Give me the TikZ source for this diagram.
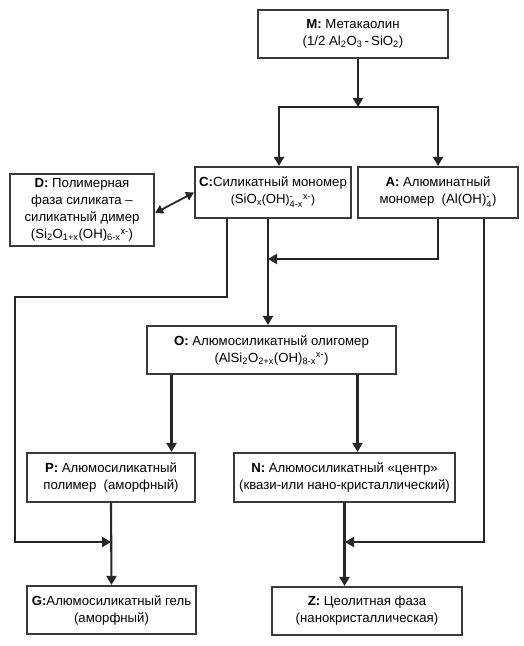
\documentclass[tikz,border=0pt]{standalone}
\usepackage{amsmath}
\usepackage{fontspec}
\setmainfont{Liberation Sans}
\usetikzlibrary{arrows.meta, calc}
\definecolor{cline}{HTML}{262626}
\definecolor{cbox}{HTML}{3A3A3A}
\newcommand{\subx}[1]{\textsubscript{#1}}
\newcommand{\supx}[1]{\textsuperscript{#1}}
\newcommand{\stk}[2]{\ensuremath{^{\text{#1}}_{\text{#2}}}}
\tikzset{
  every picture/.style={font=\fontsize{13.2}{17}\selectfont, line width=2.1pt},
  box/.style={draw=cbox, fill=white, align=center, inner sep=2pt, minimum height=#1},
  box/.default=49pt,
  arrow/.style={-{Triangle[length=9pt, width=10pt]}, draw=cline},
  dblarrow/.style={{Triangle[length=8pt, width=9pt]}-{Triangle[length=8pt, width=9pt]}, draw=cline, line width=1.8pt},
}

\begin{document}
\begin{tikzpicture}[x=1pt, y=-1pt]
  \useasboundingbox (0,0) rectangle (524,646);
  % boxes
  \node[box=48pt, minimum width=190pt] (M) at (353,34) {\textbf{M:} Метакаолин\\(1/2 Al\subx{2}O\subx{3}\,-\,SiO\subx{2})};
  \node[box=51pt, minimum width=156pt] (C) at (273,192.5) {\textbf{C:}Силикатный мономер\\{\large(}SiO\subx{x}{\large(}OH{\large)}\stk{-}{4-x}\supx{x-}{\large)}};
  \node[box=51pt, minimum width=160pt] (A) at (438,192.5) {\textbf{A:} Алюминатный\\мономер\ \ (Al(OH)\stk{-}{4})};
  \node[box=72pt, minimum width=144pt] (D) at (82,210) {\textbf{D:} Полимерная\\фаза силиката –\\силикатный димер\\(Si\subx{2}O\subx{1+x}(OH)\subx{6-x}\supx{x-})};
  \node[box=48pt, minimum width=249pt] (O) at (271.5,350) {\textbf{O:} Алюмосиликатный олигомер\\(AlSi\subx{2}O\subx{2+x}(OH)\subx{8-x}\supx{x-})};
  \node[box, minimum width=168pt] (P) at (111,477.5) {\textbf{P:} Алюмосиликатный\\полимер\ \ (аморфный)};
  \node[box, minimum width=221pt] (N) at (344.5,477.5) {\textbf{N:} Алюмосиликатный «центр»\\(квази-или нано-кристаллический)};
  \node[box=48pt, minimum width=169pt] (G) at (111.5,610) {\textbf{G:}Алюмосиликатный гель\\(аморфный)};
  \node[box=48pt, minimum width=190pt] (Z) at (367,611) {\textbf{Z:} Цеолитная фаза\\(нанокристаллическая)};
  % junctions
  \coordinate (split) at (358,107);
  \coordinate (cj) at (268,259);
  \coordinate (lt) at (15,297);
  \coordinate (lb) at (15,542);
  \coordinate (zj) at (345,542);
  % connectors
  \draw[arrow] (M.south -| split) -- (split);
  \draw[arrow] (split) -| ([xshift=6pt]C.north);
  \draw[arrow] (split) -| (A.north);
  \draw[dblarrow] ([yshift=-3pt]D.east) -- (C.west);
  \draw[arrow] ([xshift=-5pt]C.south) -- ([xshift=-5pt]C.south |- O.north);
  \draw[arrow] (A.south) |- (cj);
  \draw[arrow] ([xshift=-46pt]C.south) |- (lt) -- (lb) -- (lb -| P.south);
  \draw[arrow] ([xshift=46pt]A.south) |- (zj);
  \draw[arrow] ([xshift=-100pt]O.south) -- ([xshift=-100pt]O.south |- P.north);
  \draw[arrow] ([xshift=86pt]O.south) -- ([xshift=86pt]O.south |- N.north);
  \draw[arrow] (P.south) -- (G.north);
  \draw[arrow] (N.south) -- (N.south |- Z.north);
\end{tikzpicture}
\end{document}
